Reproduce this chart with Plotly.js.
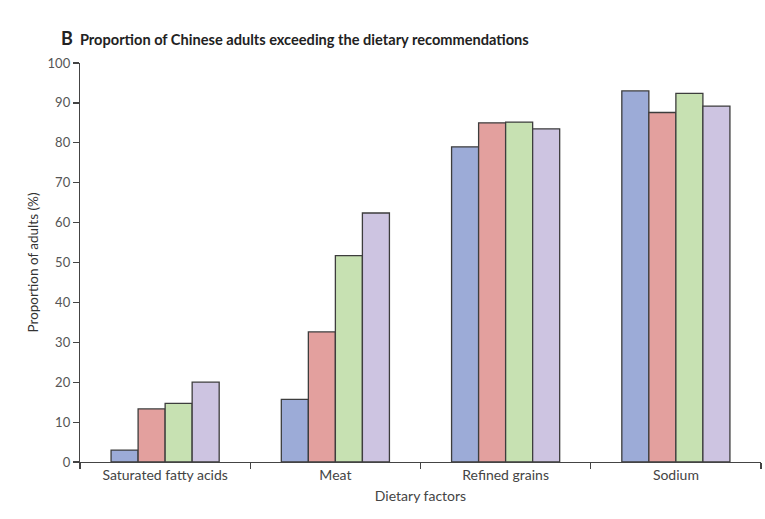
<!DOCTYPE html>
<html>
<head>
<meta charset="utf-8">
<script src="https://cdn.plot.ly/plotly-3.0.1.min.js"></script>
<style>html,body{margin:0;padding:0;background:#fff}</style>
</head>
<body>
<div id="chart" style="width:765px;height:519px"></div>
<script>
var categories = ["Saturated fatty acids", "Meat", "Refined grains", "Sodium"];
var series1 = [3.0, 15.7, 79.0, 93.0];
var series2 = [13.3, 32.6, 85.0, 87.6];
var series3 = [14.7, 51.7, 85.2, 92.4];
var series4 = [20.0, 62.4, 83.5, 89.2];
var seriesNames = ["Group 1", "Group 2", "Group 3", "Group 4"];
var colors = ["#9cabd7", "#e3a09e", "#c7e1b2", "#cdc4e1"];
var allSeries = [series1, series2, series3, series4];

var traces = allSeries.map(function(vals, i){
  return {
    type: "bar",
    x: categories,
    y: vals,
    name: seriesNames[i],
    marker: {color: colors[i], line: {color: "#3d3d3d", width: 1.3}},
    hoverinfo: "y"
  };
});

var font = "Lato, 'Open Sans', sans-serif";
var layout = {
  width: 765, height: 519,
  margin: {l: 80, r: 4, t: 63, b: 57},
  paper_bgcolor: "#fff", plot_bgcolor: "#fff",
  showlegend: false,
  barmode: "group",
  bargap: 0.365,
  bargroupgap: 0,
  title: {
    text: "<b><span style='font-size:18px'>B</span>  Proportion of Chinese adults exceeding the dietary recommendations</b>",
    font: {family: font, size: 14.6, color: "#222"},
    xref: "container", yref: "container",
    x: 61/765, xanchor: "left",
    y: 1 - 40/519, yanchor: "middle"
  },
  xaxis: {
    type: "category",
    showline: true, linecolor: "#444", linewidth: 1.2,
    ticks: "outside", tickson: "boundaries", ticklen: 6, tickcolor: "#444", tickwidth: 1.2,
    tickfont: {family: font, size: 14, color: "#444"},
    showgrid: false, zeroline: false,
    title: {text: "Dietary factors", font: {family: font, size: 14, color: "#444"}, standoff: 9}
  },
  yaxis: {
    range: [0, 100],
    dtick: 10,
    showline: true, linecolor: "#444", linewidth: 1.2,
    ticks: "outside", ticklen: 6, tickcolor: "#444", tickwidth: 1.2,
    tickfont: {family: font, size: 13, color: "#555"},
    showgrid: false, zeroline: false,
    title: {text: "Proportion of adults (%)", font: {family: font, size: 13.5, color: "#333"}, standoff: 5}
  }
};

Plotly.newPlot("chart", traces, layout, {displayModeBar: false, staticPlot: true});
</script>
</body>
</html>
